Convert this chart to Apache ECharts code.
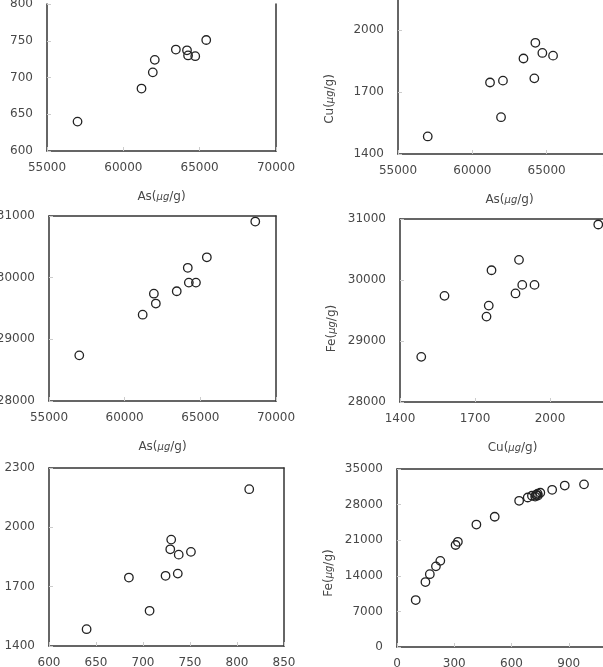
<!DOCTYPE html>
<html>
<head>
    <meta http-equiv="Content-Type" content="text/html; charset=utf-8"/>
    <title>scatter</title>
    <style>
        html, body { margin: 0; padding: 0; background: #fff; }
        #main { width: 603px; height: 667px; }
    </style>
    <script src="https://cdn.jsdelivr.net/npm/echarts@6/dist/echarts.min.js"></script>
</head>
<body>
<div id="main"></div>
<script type="text/javascript">
    // samples (same order in every array)
    var asVals = [57000, 61190, 61930, 62060, 63440, 64170, 64240, 64710, 65430, 68630];
    var xVals  = [640, 685, 707, 724, 738, 737, 730, 729, 751, 813];
    var cuVals = [1485, 1746, 1578, 1755, 1862, 1766, 1938, 1889, 1876, 2193];
    var feVals = [28740, 29400, 29740, 29580, 29780, 30160, 29920, 29920, 30330, 30910];
    // extra samples only in the last panel
    var xExtra  = [98, 149, 172, 204, 227, 307, 319, 416, 512, 879, 980];
    var feExtra = [9230, 12770, 14320, 15860, 16940, 20060, 20680, 24070, 25610, 31750, 31980];

    var asName = 'As({u|μg}/g)';
    var cuName = 'Cu({u|μg}/g)';
    var feName = 'Fe({u|μg}/g)';

    var txt = '#484848';
    var lineCol = '#333';
    var fontFam = 'DejaVu Sans';

    function zip(a, b) {
        var out = [];
        for (var i = 0; i < a.length; i++) out.push([a[i], b[i]]);
        return out;
    }
    function plain(v) { return String(v); }

    var grids = [], xAxes = [], yAxes = [], series = [];

    function panel(p) {
        var gi = grids.length;
        grids.push({left: p.left, top: p.top, width: p.width, height: p.height,
            show: false, outerBoundsMode: 'none', containLabel: false});
        var nameStyle = {
            color: txt, fontSize: 12, fontFamily: fontFam,
            rich: {u: {fontSize: 10, fontStyle: 'italic', color: txt, fontFamily: fontFam}}
        };
        xAxes.push({
            gridIndex: gi, type: 'value', min: p.x[0], max: p.x[1], interval: p.x[2],
            name: p.xName || '', nameLocation: 'middle', nameGap: 40,
            nameTextStyle: nameStyle,
            axisLine: {show: true, onZero: false, lineStyle: {color: lineCol, width: 1.5}},
            axisTick: {show: true, inside: true, length: 4, lineStyle: {color: '#ccc'}},
            axisLabel: {color: txt, fontSize: 12, fontFamily: fontFam, margin: 11, formatter: plain},
            splitLine: {show: false}
        });
        xAxes.push({
            gridIndex: gi, type: 'value', position: 'top', min: p.x[0], max: p.x[1],
            axisLine: {show: p.topLine !== false, onZero: false, lineStyle: {color: lineCol, width: 1.5}},
            axisTick: {show: false}, axisLabel: {show: false}, splitLine: {show: false}
        });
        yAxes.push({
            gridIndex: gi, type: 'value', min: p.y[0], max: p.y[1], interval: p.y[2],
            name: p.yName || '', nameLocation: 'middle', nameGap: 62, nameRotate: 90,
            nameTextStyle: Object.assign({}, nameStyle, {padding: [0, p.namePad || 0, 0, 0]}),
            axisLine: {show: true, onZero: false, lineStyle: {color: lineCol, width: 1.5}},
            axisTick: {show: true, inside: true, length: 4, lineStyle: {color: '#ccc'}},
            axisLabel: {color: txt, fontSize: 12, fontFamily: fontFam, margin: 14, formatter: plain},
            splitLine: {show: false}
        });
        yAxes.push({
            gridIndex: gi, type: 'value', position: 'right', min: p.y[0], max: p.y[1],
            axisLine: {show: true, onZero: false, lineStyle: {color: lineCol, width: 1.5}},
            axisTick: {show: false}, axisLabel: {show: false}, splitLine: {show: false}
        });
        series.push({
            type: 'scatter',
            xAxisIndex: gi * 2, yAxisIndex: gi * 2,
            data: p.data,
            symbol: 'circle', symbolSize: 8.5,
            itemStyle: {color: 'rgba(0,0,0,0)', borderColor: '#222', borderWidth: 1.3, opacity: 1},
            emphasis: {disabled: true},
            silent: true
        });
    }

    panel({left: 47, top: 4, width: 229, height: 147, x: [55000, 70000, 5000], y: [600, 800, 50],
        xName: asName, data: zip(asVals, xVals), topLine: false});
    panel({left: 398, top: -32, width: 223, height: 186, x: [55000, 70000, 5000], y: [1400, 2300, 300],
        xName: asName, yName: cuName, namePad: 76, data: zip(asVals, cuVals)});
    panel({left: 49, top: 216, width: 227, height: 185, x: [55000, 70000, 5000], y: [28000, 31000, 1000],
        xName: asName, data: zip(asVals, feVals)});
    panel({left: 400, top: 219, width: 225, height: 183, x: [1400, 2300, 300], y: [28000, 31000, 1000],
        xName: cuName, yName: feName, namePad: 36, data: zip(cuVals, feVals)});
    panel({left: 49, top: 468, width: 235, height: 178, x: [600, 850, 50], y: [1400, 2300, 300],
        data: zip(xVals, cuVals)});
    panel({left: 397, top: 469, width: 229, height: 178, x: [0, 1200, 300], y: [0, 35000, 7000],
        yName: feName, namePad: 30, data: zip(xVals.concat(xExtra), feVals.concat(feExtra))});

    var myChart = echarts.init(document.getElementById('main'));
    myChart.setOption({
        animation: false,
        backgroundColor: '#fff',
        grid: grids,
        xAxis: xAxes,
        yAxis: yAxes,
        series: series
    });
</script>
</body>
</html>
